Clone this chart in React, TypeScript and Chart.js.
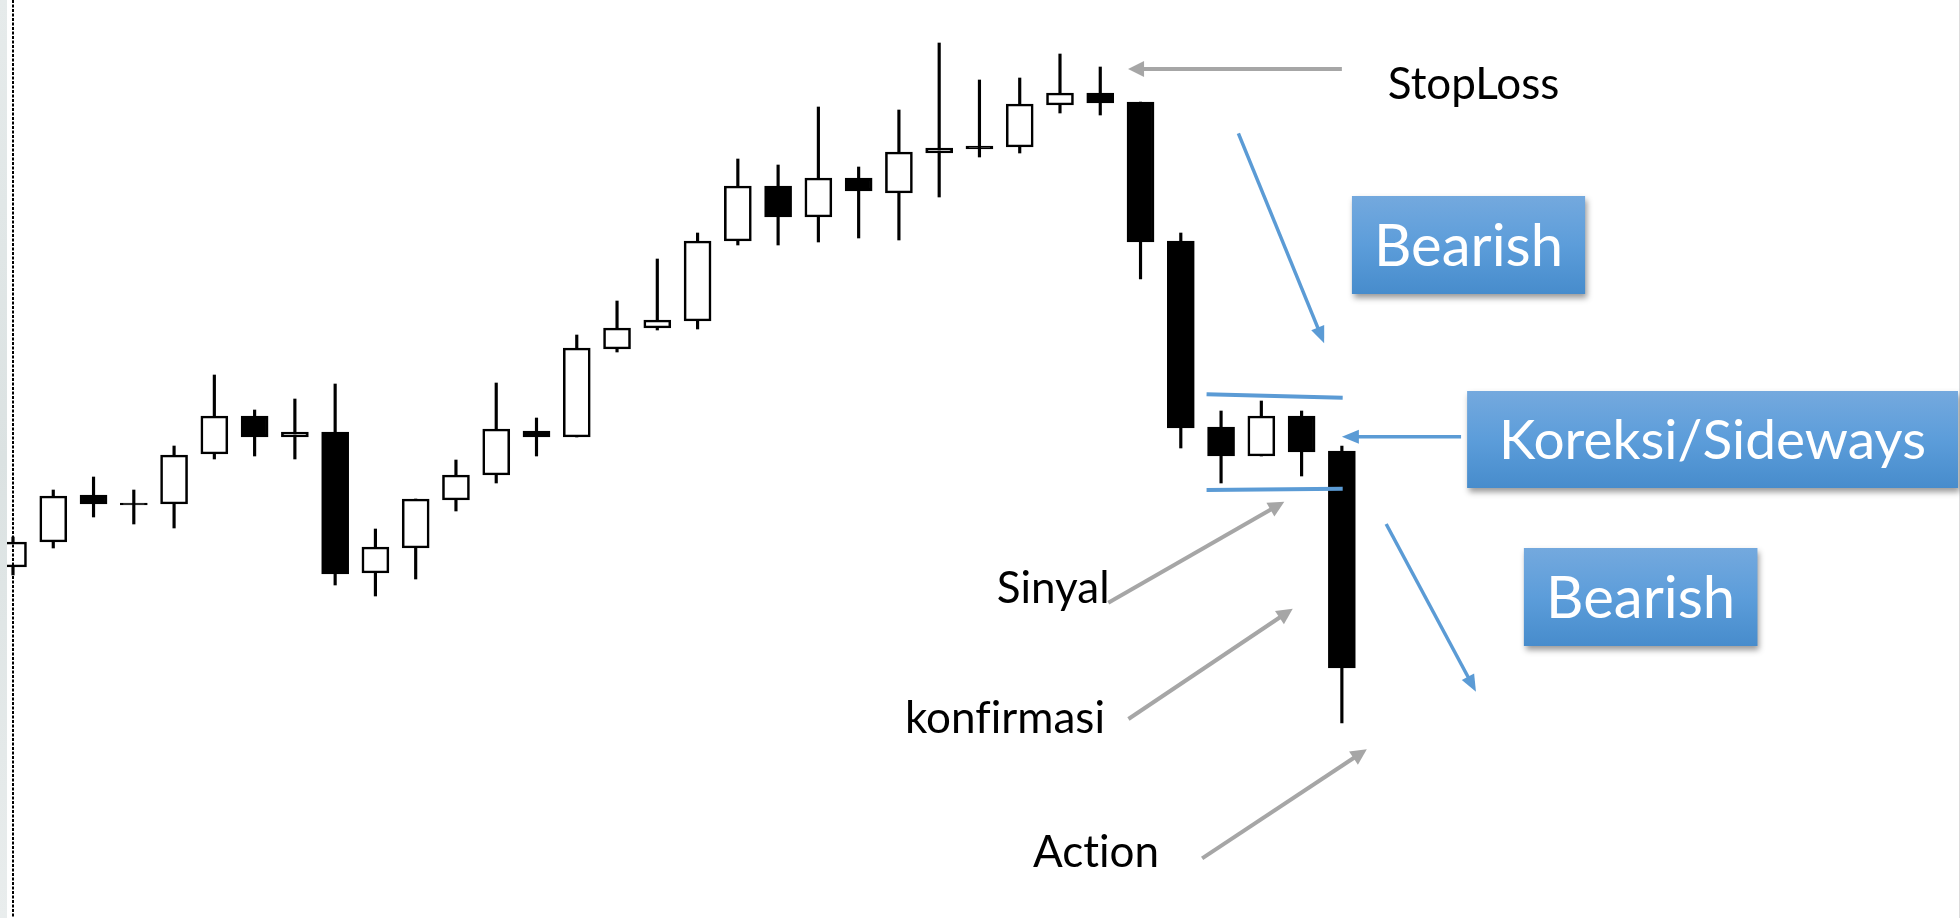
import React, { useEffect, useRef } from "react";
import { Chart, registerables } from "chart.js";

Chart.register(...registerables);

// ---- Candle data (price units) ----
const OPEN = [351, 376, 423, 415, 414, 464, 502, 481, 486, 345, 370, 418, 443, 487, 481, 569, 590, 597, 677, 732, 701, 740, 725, 765, 772, 771, 813, 825, 816, 677, 491, 462, 502, 467];
const HIGH = [381, 428, 441, 428, 472, 543, 508, 519, 534, 389, 419, 458, 535, 500, 583, 617, 659, 685, 759, 753, 811, 751, 808, 875, 838, 840, 864, 851, 816, 685, 507, 517, 507, 472];
const LOW = [343, 370, 401, 394, 390, 459, 462, 459, 333, 322, 339, 407, 435, 462, 481, 566, 588, 589, 673, 673, 676, 680, 678, 721, 761, 765, 805, 803, 639, 470, 435, 462, 442, 195];
const CLOSE = [376, 422, 414, 413, 463, 502, 481, 486, 344, 371, 419, 443, 489, 481, 570, 590, 598, 677, 732, 701, 740, 727, 766, 770, 769, 814, 825, 815, 676, 490, 462, 502, 466, 250];
const INDEX = OPEN.map((_, i) => i);

// ---- Annotations (in data units: candle index, price) ----
const GREY_ARROWS = [
  { from: [33.0, 849], to: [27.69, 849] },
  { from: [27.2, 315.3], to: [31.57, 416.3] },
  { from: [27.7, 199], to: [31.78, 309.3] },
  { from: [29.53, 59.7], to: [33.62, 168.7] },
];
const BLUE_ARROWS = [
  { from: [30.43, 784.7], to: [32.56, 574.7] },
  { from: [35.96, 481.3], to: [33.0, 481.3] },
  { from: [34.1, 394], to: [36.33, 226.3] },
];
const CHANNEL_LINES = [
  { from: [29.64, 523.7], to: [33.02, 520.3] },
  { from: [29.64, 428], to: [33.02, 429.3] },
];
const BOXES = [
  { text: "Bearish", x0: 33.25, x1: 39.04, y0: 722, y1: 624, size: 58 },
  { text: "Koreksi/Sideways", x0: 36.11, x1: 48.3, y0: 527, y1: 430, size: 55 },
  { text: "Bearish", x0: 37.52, x1: 43.32, y0: 370, y1: 272, size: 58 },
];
const LABELS = [
  { text: "StopLoss", x: 34.14, y: 819 },
  { text: "Sinyal", x: 24.43, y: 315 },
  { text: "konfirmasi", x: 22.15, y: 185 },
  { text: "Action", x: 25.33, y: 51 },
];

const BLUE = "#5B9BD5";
const GREY = "#A6A6A6";
const FONT = "Lato, 'Open Sans', sans-serif";

function drawArrow(ctx: CanvasRenderingContext2D, x1: number, y1: number, x2: number, y2: number, color: string, width: number, headLen: number, headHalf: number) {
  const ang = Math.atan2(y2 - y1, x2 - x1);
  const bx = x2 - Math.cos(ang) * headLen;
  const by = y2 - Math.sin(ang) * headLen;
  ctx.strokeStyle = color;
  ctx.fillStyle = color;
  ctx.lineWidth = width;
  ctx.lineCap = "butt";
  ctx.beginPath();
  ctx.moveTo(x1, y1);
  ctx.lineTo(bx + Math.cos(ang) * 2, by + Math.sin(ang) * 2);
  ctx.stroke();
  ctx.beginPath();
  ctx.moveTo(x2, y2);
  ctx.lineTo(bx - Math.sin(ang) * headHalf, by + Math.cos(ang) * headHalf);
  ctx.lineTo(bx + Math.sin(ang) * headHalf, by - Math.cos(ang) * headHalf);
  ctx.closePath();
  ctx.fill();
}

const overlayPlugin = {
  id: "overlay",
  afterDatasetsDraw(chart: any) {
    const { ctx, scales } = chart;
    const xs = scales.x;
    const ys = scales.y;
    const px = (v: number) => xs.getPixelForValue(v);
    const py = (v: number) => ys.getPixelForValue(v);
    const H = chart.height;
    const W = chart.width;
    ctx.save();
    (ctx as any).letterSpacing = "0.01px";

    // left strip
    const g = ctx.createLinearGradient(0, 0, 0, H);
    g.addColorStop(0, "#e6ebeb");
    g.addColorStop(0.5, "#dbe2e2");
    g.addColorStop(1, "#e9eded");
    ctx.fillStyle = g;
    ctx.fillRect(0, 0, 7, H);

    // dotted vertical line
    ctx.strokeStyle = "#000";
    ctx.lineWidth = 2;
    ctx.setLineDash([3, 1.5]);
    ctx.beginPath();
    const dx = Math.round(px(0));
    ctx.moveTo(dx, 0);
    ctx.lineTo(dx, H);
    ctx.stroke();
    ctx.setLineDash([]);

    // right faint edge
    ctx.strokeStyle = "#dcdcdc";
    ctx.lineWidth = 1;
    ctx.beginPath();
    ctx.moveTo(W - 0.5, 0);
    ctx.lineTo(W - 0.5, H);
    ctx.stroke();

    // channel lines
    ctx.strokeStyle = BLUE;
    ctx.lineWidth = 4;
    for (const l of CHANNEL_LINES) {
      ctx.beginPath();
      ctx.moveTo(px(l.from[0]), py(l.from[1]));
      ctx.lineTo(px(l.to[0]), py(l.to[1]));
      ctx.stroke();
    }

    for (const a of GREY_ARROWS) {
      drawArrow(ctx, px(a.from[0]), py(a.from[1]), px(a.to[0]), py(a.to[1]), GREY, 4, 16, 8);
    }
    for (const a of BLUE_ARROWS) {
      drawArrow(ctx, px(a.from[0]), py(a.from[1]), px(a.to[0]), py(a.to[1]), BLUE, 3.5, 17, 7);
    }

    // boxes
    for (const b of BOXES) {
      const x0 = px(b.x0), x1 = px(b.x1), y0 = py(b.y0), y1 = py(b.y1);
      ctx.save();
      ctx.shadowColor = "rgba(0,0,0,0.4)";
      ctx.shadowBlur = 6;
      ctx.shadowOffsetX = 2;
      ctx.shadowOffsetY = 4;
      const bg = ctx.createLinearGradient(0, y0, 0, y1);
      bg.addColorStop(0, "#74a9de");
      bg.addColorStop(0.5, "#5c9dda");
      bg.addColorStop(1, "#478ccc");
      ctx.fillStyle = bg;
      ctx.fillRect(x0, y0, x1 - x0, y1 - y0);
      ctx.restore();
      ctx.fillStyle = "#ffffff";
      ctx.font = `${b.size}px ${FONT}`;
      ctx.textAlign = "center";
      ctx.textBaseline = "alphabetic";
      const cap = ctx.measureText("B").actualBoundingBoxAscent;
      const cx = (x0 + x1) / 2;
      const cy = (y0 + y1) / 2;
      ctx.fillText(b.text, cx, cy + cap / 2);
    }

    // labels
    ctx.fillStyle = "#000";
    ctx.font = `44px ${FONT}`;
    ctx.textAlign = "left";
    ctx.textBaseline = "alphabetic";
    for (const l of LABELS) {
      ctx.fillText(l.text, px(l.x), py(l.y));
    }
    ctx.restore();
  },
};

export default function App() {
  const ref = useRef<HTMLCanvasElement>(null);
  useEffect(() => {
    document.body.style.margin = "0";
    const canvas = ref.current!;
    const chart = new Chart(canvas, {
      type: "bar",
      data: {
        datasets: [
          {
            label: "wick",
            data: INDEX.map((i) => ({ x: i, y: [LOW[i], HIGH[i]] })) as any,
            backgroundColor: "#000",
            borderWidth: 0,
            barThickness: 2.5,
            grouped: false,
            order: 2,
          } as any,
          {
            label: "body",
            data: INDEX.map((i) => ({ x: i, y: [OPEN[i], CLOSE[i]] })) as any,
            backgroundColor: INDEX.map((i) => (CLOSE[i] >= OPEN[i] ? "#ffffff" : "#000000")),
            borderColor: "#000",
            borderWidth: 2.6,
            borderSkipped: false,
            barThickness: 27,
            grouped: false,
            order: 1,
          } as any,
        ],
      },
      options: {
        animation: false,
        responsive: false,
        devicePixelRatio: 1,
        layout: { padding: 0 },
        plugins: { legend: { display: false }, tooltip: { enabled: false } },
        scales: {
          x: { type: "linear", display: false, offset: false, min: -0.3228, max: 48.35, grid: { display: false } },
          y: { type: "linear", display: false, min: 0, max: 918, grid: { display: false } },
        },
      } as any,
      plugins: [overlayPlugin],
    });
    return () => chart.destroy();
  }, []);
  return (
    <div style={{ position: "fixed", left: 0, top: 0, width: 1960, height: 918, background: "#fff" }}>
      <canvas ref={ref} width={1960} height={918} style={{ width: 1960, height: 918, display: "block" }} />
    </div>
  );
}
